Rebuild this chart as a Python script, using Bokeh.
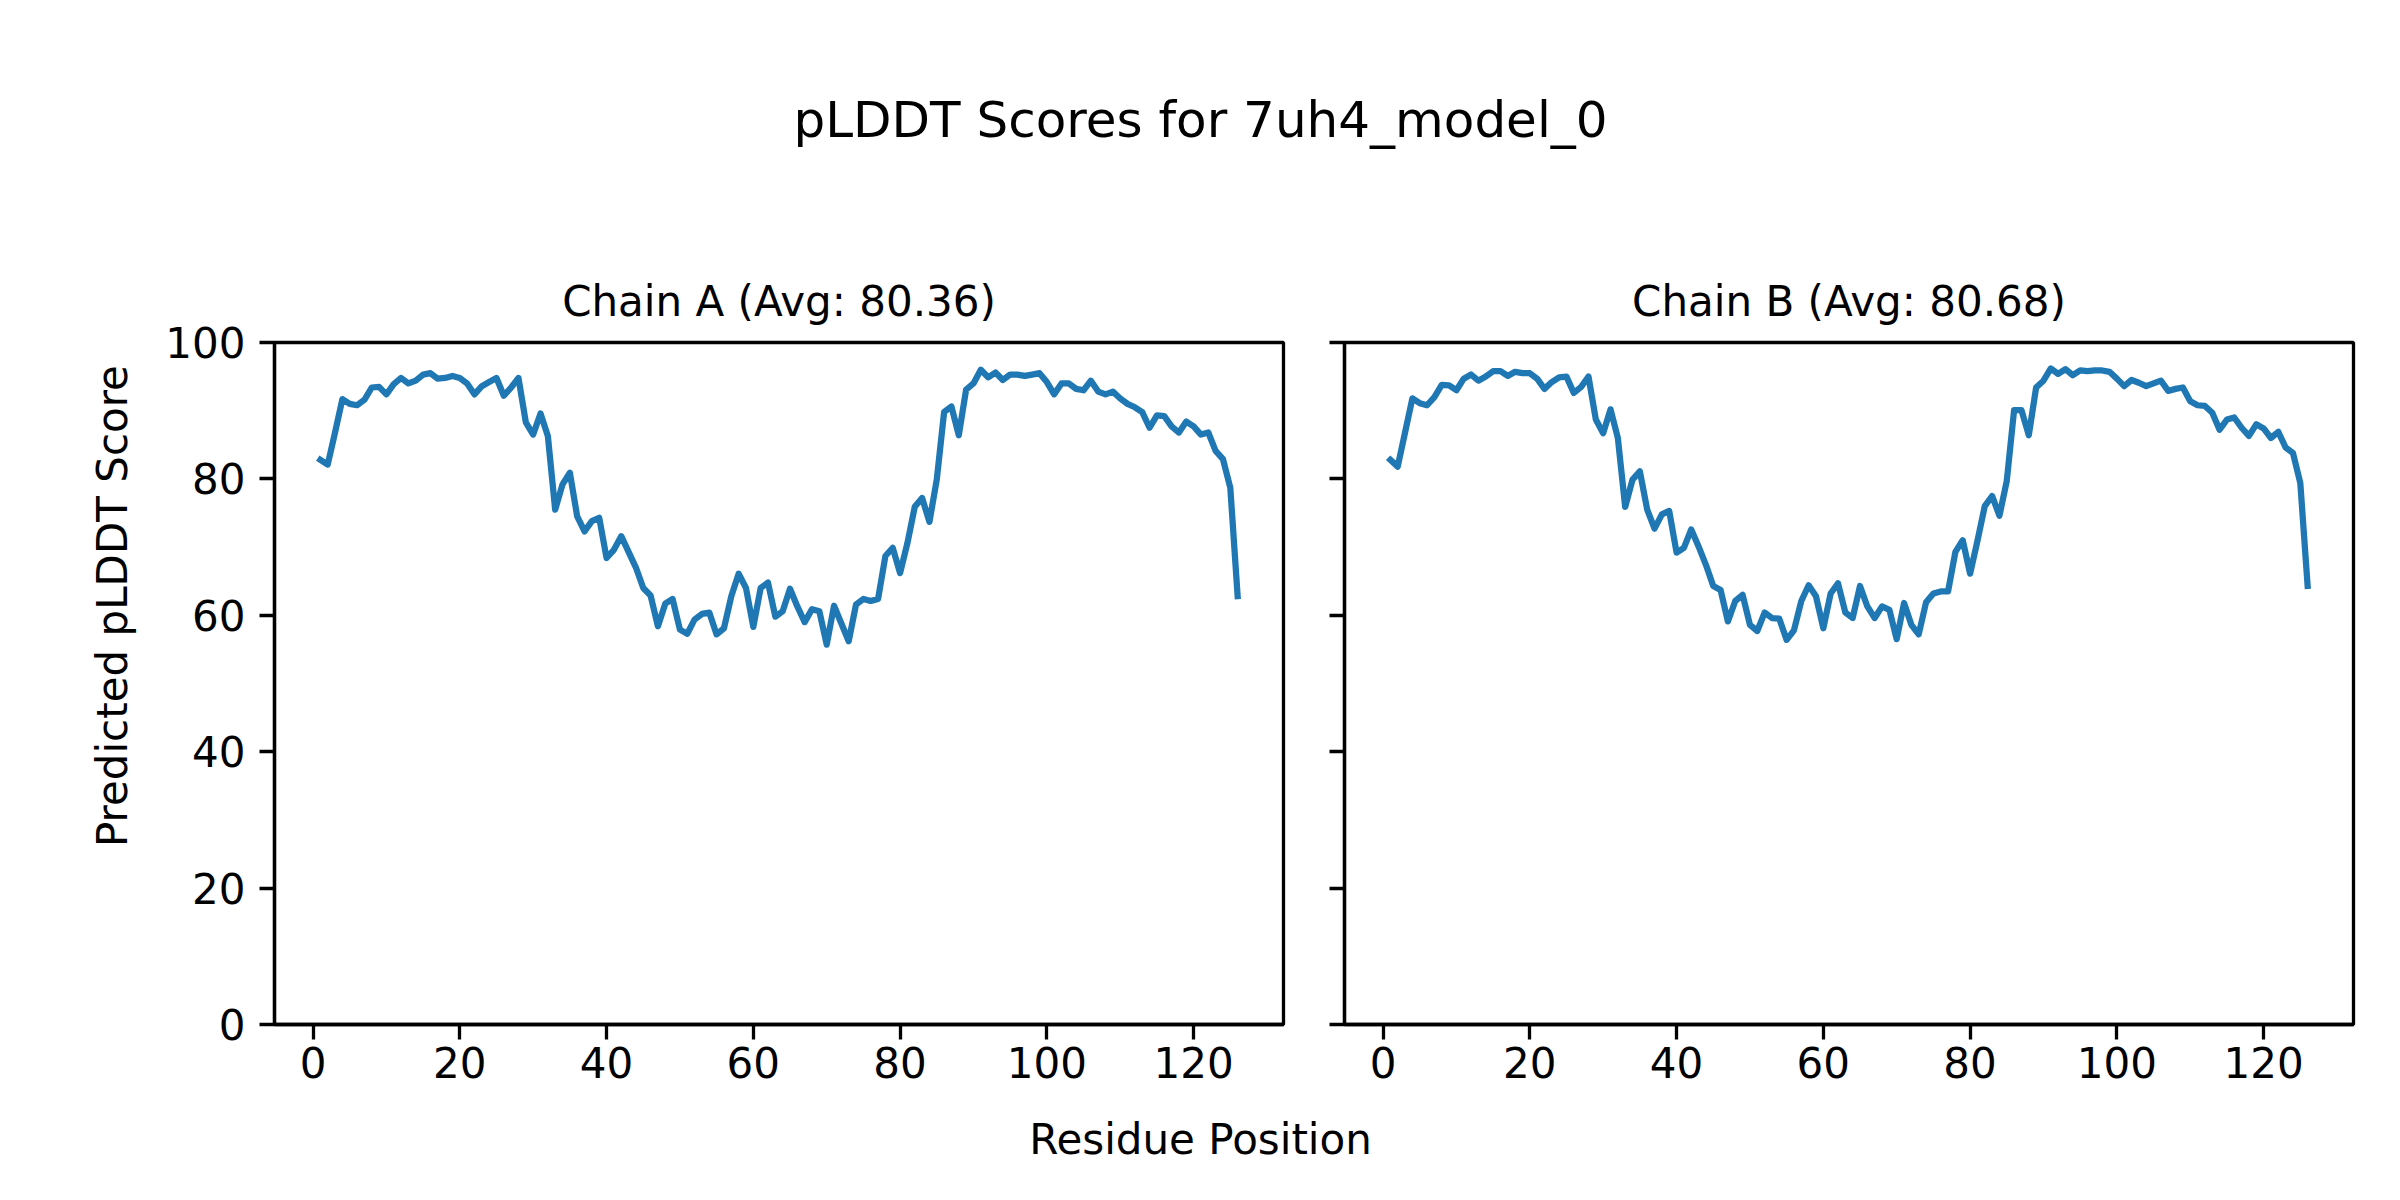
from bokeh.plotting import figure
from bokeh.layouts import column, row
from bokeh.models import Range1d, FixedTicker, CustomJSTickFormatter, Title
from bokeh.core.properties import value
from bokeh.embed import file_html
from bokeh.resources import INLINE
import math

# ---------------- data ----------------
residues = list(range(1, 127))

chain_a_plddt = [
    82.8, 82.1, 86.8, 91.7, 91.0, 90.8, 91.6, 93.4, 93.5, 92.4,
    93.9, 94.8, 94.0, 94.4, 95.3, 95.5, 94.7, 94.8, 95.1, 94.8,
    94.0, 92.4, 93.6, 94.2, 94.8, 92.2, 93.4, 94.8, 88.3, 86.5,
    89.6, 86.3, 75.5, 79.2, 80.9, 74.5, 72.3, 73.8, 74.3, 68.4,
    69.6, 71.6, 69.3, 67.0, 64.0, 62.9, 58.4, 61.7, 62.4, 57.9,
    57.3, 59.4, 60.2, 60.4, 57.2, 58.1, 62.8, 66.1, 64.0, 58.3,
    64.0, 64.8, 59.8, 60.6, 63.9, 61.3, 59.0, 60.9, 60.6, 55.7,
    61.4, 58.8, 56.2, 61.6, 62.4, 62.1, 62.4, 68.7, 69.9, 66.2,
    70.6, 75.9, 77.2, 73.7, 79.9, 89.8, 90.6, 86.4, 93.1, 94.0,
    96.0, 94.9, 95.6, 94.5, 95.3, 95.3, 95.1, 95.3, 95.5, 94.2,
    92.4, 94.0, 94.0, 93.2, 93.0, 94.4, 92.8, 92.4, 92.8, 91.8,
    91.0, 90.5, 89.8, 87.5, 89.3, 89.2, 87.7, 86.8, 88.4, 87.7,
    86.5, 86.8, 84.1, 82.9, 78.7, 62.8,
]

chain_b_plddt = [
    82.8, 81.8, 86.8, 91.8, 91.1, 90.8, 92.0, 93.8, 93.7, 93.0,
    94.7, 95.3, 94.4, 95.0, 95.8, 95.8, 95.1, 95.7, 95.5, 95.5,
    94.7, 93.2, 94.2, 94.9, 95.0, 92.6, 93.5, 95.0, 88.7, 86.7,
    90.2, 86.0, 75.9, 79.9, 81.1, 75.5, 72.7, 74.8, 75.3, 69.2,
    69.9, 72.6, 70.1, 67.4, 64.3, 63.7, 59.1, 62.1, 63.0, 58.6,
    57.7, 60.4, 59.6, 59.5, 56.4, 57.8, 62.1, 64.4, 62.8, 58.1,
    63.2, 64.7, 60.4, 59.6, 64.3, 61.3, 59.6, 61.3, 60.8, 56.5,
    61.8, 58.6, 57.2, 61.9, 63.2, 63.5, 63.5, 69.3, 71.0, 66.1,
    70.9, 76.0, 77.5, 74.6, 79.7, 90.1, 90.1, 86.4, 93.4, 94.4,
    96.2, 95.4, 96.1, 95.2, 95.9, 95.8, 95.9, 95.9, 95.7, 94.7,
    93.6, 94.5, 94.1, 93.6, 94.0, 94.4, 92.9, 93.2, 93.4, 91.4,
    90.8, 90.7, 89.7, 87.2, 88.7, 89.0, 87.5, 86.3, 88.0, 87.4,
    86.0, 86.9, 84.6, 83.8, 79.4, 64.3,
]

chain_titles = ["Chain A (Avg: 80.36)", "Chain B (Avg: 80.68)"]
main_title = "pLDDT Scores for 7uh4_model_0"
x_label = "Residue Position"
y_label = "Predicted pLDDT Score"
x_ticks = [0, 20, 40, 60, 80, 100, 120]
y_ticks = [0, 20, 40, 60, 80, 100]

# ---------------- style ----------------
FONT = "DejaVu Sans"
LINE_COLOR = "#1f77b4"
FRAME_W, FRAME_H = 1009, 682
TOP_BORDER, BOTTOM_BORDER = 100, 90
TOTAL_W = 2384
SPINE = 3.3


def blank_fig(w, h):
    f = figure(width=w, height=h, output_backend="svg", toolbar_location=None,
               x_axis_type=None, y_axis_type=None,
               x_range=Range1d(0, w), y_range=Range1d(h, 0),
               min_border=0, outline_line_color=None)
    f.xgrid.visible = False
    f.ygrid.visible = False
    return f


def panel(data, title, left_border, right_border, show_ylabels):
    p = figure(frame_width=FRAME_W, frame_height=FRAME_H,
               output_backend="svg", toolbar_location=None,
               x_range=Range1d(-5.25, 132.25), y_range=Range1d(0, 100),
               min_border_left=left_border, min_border_right=right_border,
               min_border_top=TOP_BORDER, min_border_bottom=BOTTOM_BORDER)
    p.title = Title(text=title, align="center", text_font=FONT,
                    text_font_size="42px", text_font_style="normal",
                    text_color="black", standoff=34)
    p.line(residues, data, line_color=LINE_COLOR, line_width=6.25,
           line_join="round", line_cap="square")
    p.xgrid.visible = False
    p.ygrid.visible = False
    p.outline_line_color = "black"
    p.outline_line_width = SPINE
    p.outline_line_alpha = 1.0
    for ax in (p.xaxis[0], p.yaxis[0]):
        ax.axis_line_width = SPINE
        ax.axis_line_color = "black"
        ax.major_tick_line_width = SPINE
        ax.major_tick_line_color = "black"
        ax.major_tick_out = 15
        ax.major_tick_in = 0
        ax.minor_tick_line_color = None
        ax.major_label_text_font = FONT
        ax.major_label_text_font_size = "42px"
        ax.major_label_text_color = "black"
    p.xaxis.ticker = FixedTicker(ticks=x_ticks)
    p.yaxis.ticker = FixedTicker(ticks=y_ticks)
    p.xaxis.major_label_standoff = 7
    p.yaxis.major_label_standoff = 14
    if not show_ylabels:
        p.yaxis.formatter = CustomJSTickFormatter(code="return ''")
    return p


ROW_H = TOP_BORDER + FRAME_H + BOTTOM_BORDER
TOP_H = 342 - TOP_BORDER

# top strip: main title
top = blank_fig(TOTAL_W, TOP_H)
top.text(x=[1200], y=[119], text=[main_title], text_font=value(FONT),
         text_font_size="50px", text_align="center", text_baseline="middle",
         text_color="black")

# left strip: shared y label
left = blank_fig(160, ROW_H)
left.text(x=[112], y=[579 - TOP_H], text=[y_label], text_font=value(FONT),
          text_font_size="42px", text_align="center", text_baseline="middle",
          angle=math.pi / 2, text_color="black")

pa = panel(chain_a_plddt, chain_titles[0], 114, 5, True)
pb = panel(chain_b_plddt, chain_titles[1], 56, 20, False)

# bottom strip: shared x label
bottom = blank_fig(TOTAL_W, 80)
bottom.text(x=[1200], y=[1139 - (TOP_H + ROW_H)], text=[x_label], text_font=value(FONT),
            text_font_size="42px", text_align="center", text_baseline="middle",
            text_color="black")

layout = column(top, row(left, pa, pb), bottom)
open("out.html", "w").write(file_html(layout, INLINE))
